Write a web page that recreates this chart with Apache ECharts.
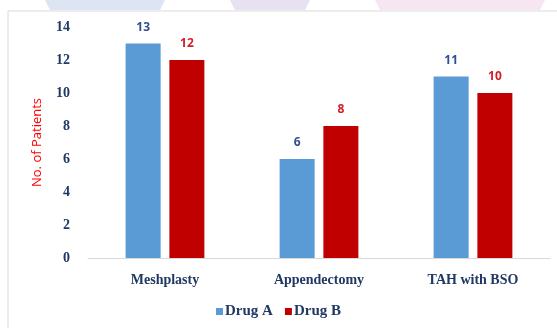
<!DOCTYPE html>
<html>
<head>
<meta charset="utf-8">
<script src="https://cdn.jsdelivr.net/npm/echarts@6/dist/echarts.min.js"></script>
<style>
  html, body { margin: 0; padding: 0; background: #fff; }
  #main { width: 557px; height: 328px; }
</style>
</head>
<body>
<div id="main"></div>
<script>
const categories = ['Meshplasty', 'Appendectomy', 'TAH with BSO'];
const drugA = [13, 6, 11];
const drugB = [12, 8, 10];
const yTicks = { min: 0, max: 14, interval: 2 };

var chartDom = document.getElementById('main');
var myChart = echarts.init(chartDom);
var serif = '"Liberation Serif", "DejaVu Serif", serif';
var navy = '#1F3864';

var option = {
    animation: false,
    graphic: [
        // faint watermark shapes at the very top
        { type: 'polygon', shape: { points: [[45, 0], [165, 0], [160, 10], [50, 10]] }, style: { fill: 'rgba(120,150,210,0.25)' }, silent: true },
        { type: 'polygon', shape: { points: [[230, 0], [310, 0], [305, 10], [235, 10]] }, style: { fill: 'rgba(150,120,190,0.22)' }, silent: true },
        { type: 'polygon', shape: { points: [[375, 0], [545, 0], [540, 10], [380, 10]] }, style: { fill: 'rgba(210,140,190,0.22)' }, silent: true },
        // chart frame
        { type: 'polyline', shape: { points: [[8, 340], [8, 11], [560, 11]] }, style: { stroke: '#d9d9d9', lineWidth: 1, fill: null }, silent: true }
    ],
    grid: { left: 88, right: 7, top: 27, bottom: 70 },
    legend: {
        data: ['Drug A', 'Drug B'],
        bottom: 4,
        left: 'center',
        itemWidth: 7,
        itemHeight: 7,
        itemGap: 12,
        icon: 'rect',
        textStyle: { fontFamily: serif, fontWeight: 'bold', fontSize: 15, color: navy, padding: [0, 0, 0, -3] }
    },
    xAxis: {
        type: 'category',
        data: categories,
        axisTick: { show: false },
        axisLine: { lineStyle: { color: '#d9d9d9' } },
        axisLabel: { fontFamily: serif, fontWeight: 'bold', fontSize: 14, color: navy, margin: 15 }
    },
    yAxis: {
        type: 'value',
        min: yTicks.min,
        max: yTicks.max,
        interval: yTicks.interval,
        name: 'No. of Patients',
        nameLocation: 'middle',
        nameGap: 44,
        nameTextStyle: { color: '#FF0000', fontSize: 13, fontFamily: '"Open Sans", sans-serif' },
        splitLine: { show: false },
        axisLine: { show: false },
        axisLabel: { fontFamily: serif, fontWeight: 'bold', fontSize: 14, color: navy, margin: 18 }
    },
    series: [
        {
            name: 'Drug A',
            type: 'bar',
            data: drugA,
            barWidth: 35,
            barGap: '25%',
            itemStyle: { color: '#5B9BD5' },
            label: { show: true, position: 'top', distance: 10, fontWeight: 'bold', fontSize: 12, color: '#2F4F8F', fontFamily: '"Open Sans", sans-serif' }
        },
        {
            name: 'Drug B',
            type: 'bar',
            data: drugB,
            barWidth: 35,
            itemStyle: { color: '#C00000' },
            label: { show: true, position: 'top', distance: 10, fontWeight: 'bold', fontSize: 12, color: '#D0202A', fontFamily: '"Open Sans", sans-serif' }
        }
    ]
};

option && myChart.setOption(option);
</script>
</body>
</html>
